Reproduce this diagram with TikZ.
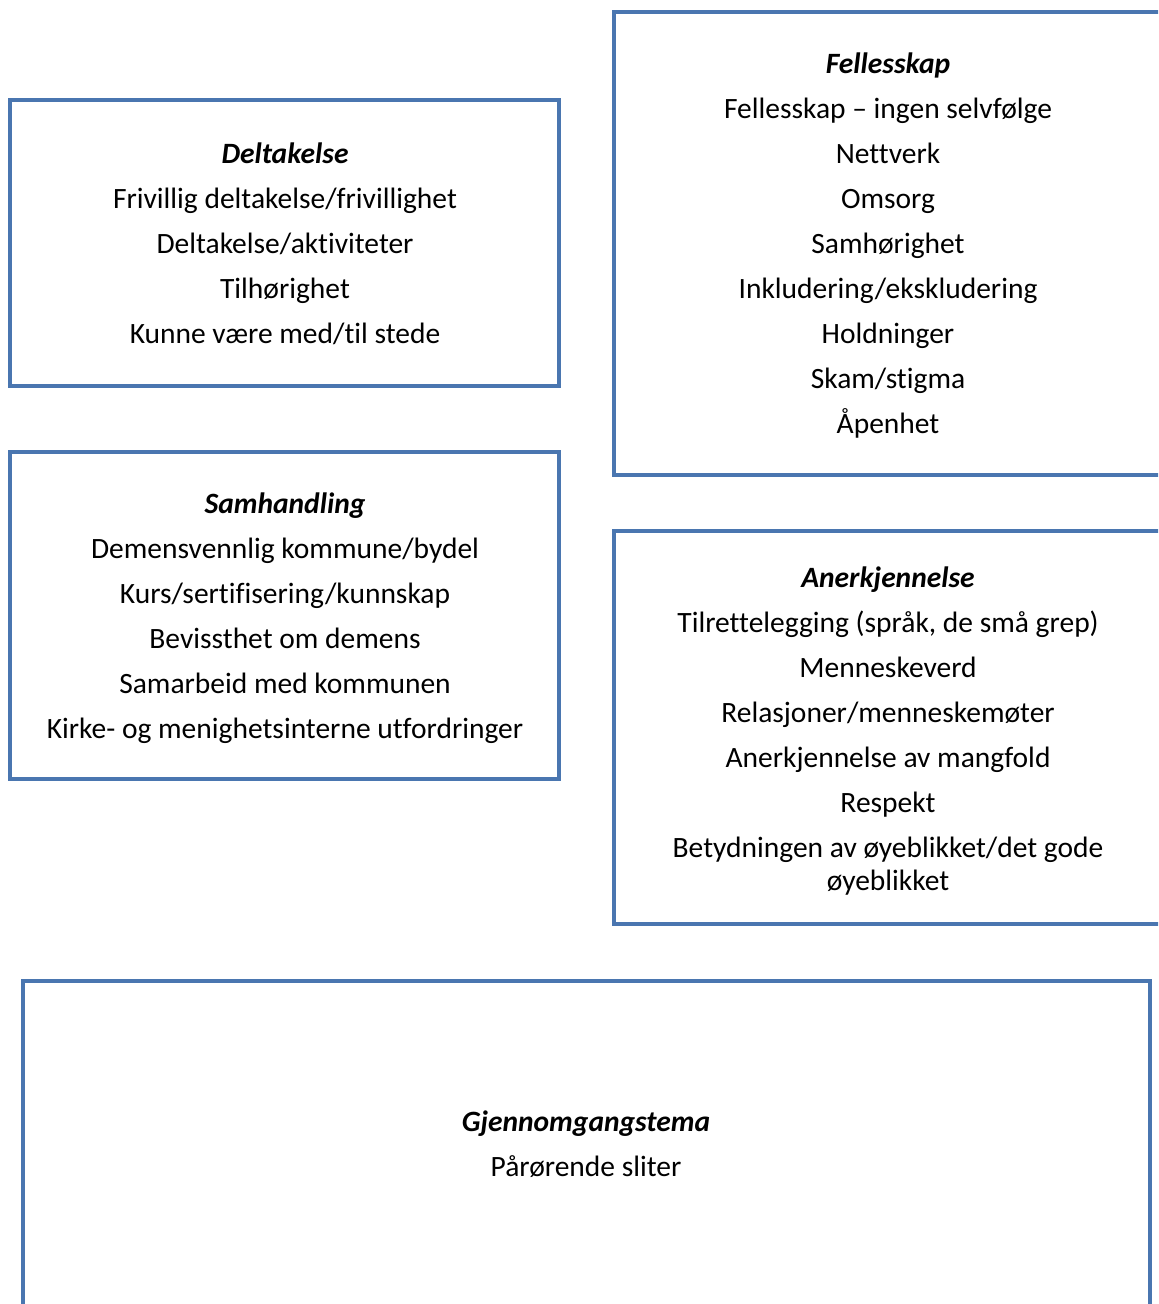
\documentclass[tikz,border=0pt]{standalone}
\usepackage{fontspec}
\setmainfont[Ligatures=NoCommon]{Carlito}
\definecolor{boxblue}{RGB}{74,118,176}
\tikzset{
	themebox/.style = {draw = boxblue, line width = 2pt},
	themetext/.style = {anchor = north, align = center, inner sep = 0pt, font = \fontsize{14.75}{22.5}\selectfont}
}

\begin{document}
\begin{tikzpicture}[x = 0.5pt, y = -0.5pt]
			\useasboundingbox (0, 0) rectangle (1158, 1304);
			\clip (0, 0) rectangle (1158, 1304);
			
			\draw[themebox] (10, 100) rectangle (559, 386);
			\draw[themebox] (614, 12) rectangle (1163, 475);
			\draw[themebox] (10, 452) rectangle (559, 779);
			\draw[themebox] (614, 531) rectangle (1163, 924);
			\draw[themebox] (23, 981) rectangle (1150, 1320);
			
			\node[themetext] (deltakelse) at (285, 142) {\textbf{\textit{Deltakelse}}\\
				Frivillig deltakelse/frivillighet\\
				Deltakelse/aktiviteter\\
				Tilhørighet\\
				Kunne være med/til stede};
			
			\node[themetext] (fellesskap) at (888, 52) {\textbf{\textit{Fellesskap}}\\
				Fellesskap – ingen selvfølge\\
				Nettverk\\
				Omsorg\\
				Samhørighet\\
				Inkludering/ekskludering\\
				Holdninger\\
				Skam/stigma\\
				Åpenhet};
			
			\node[themetext] (samhandling) at (285, 492) {\textbf{\textit{Samhandling}}\\
				Demensvennlig kommune/bydel\\
				Kurs/sertifisering/kunnskap\\
				Bevissthet om demens\\
				Samarbeid med kommunen\\
				Kirke- og menighetsinterne utfordringer};
			
			\node[themetext] (anerkjennelse) at (888, 566) {\textbf{\textit{Anerkjennelse}}\\
				Tilrettelegging (språk, de små grep)\\
				Menneskeverd\\
				Relasjoner/menneskemøter\\
				Anerkjennelse av mangfold\\
				Respekt\\
				Betydningen av øyeblikket/det gode\\[-6pt]
				øyeblikket};
			
			\node[themetext] (gjennomgang) at (586, 1110) {\textbf{\textit{Gjennomgangstema}}\\
				Pårørende sliter};
\end{tikzpicture}
\end{document}
